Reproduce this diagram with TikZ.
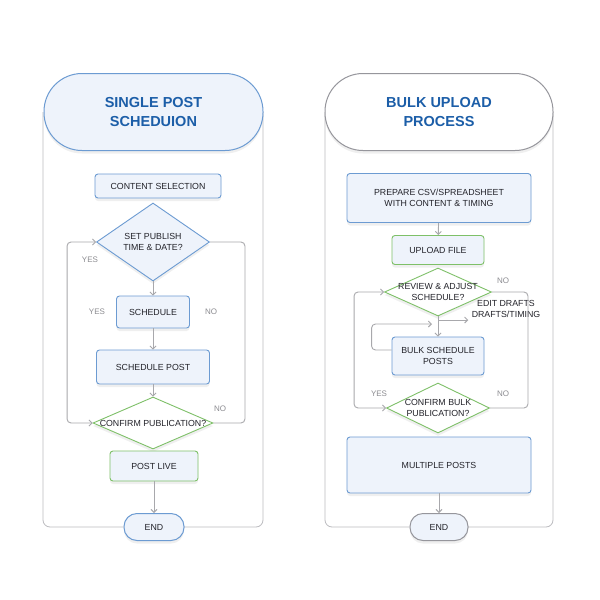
\documentclass[tikz,border=0pt]{standalone}
\usepackage{fontspec}
\setmainfont{Liberation Sans}
\usetikzlibrary{positioning,arrows.meta,shapes.geometric,shadows}
\definecolor{spBlue}{RGB}{108,155,210}
\definecolor{spBlueFill}{RGB}{238,243,251}
\definecolor{spGreen}{RGB}{126,192,104}
\definecolor{spGray}{RGB}{168,168,172}
\definecolor{spFrame}{RGB}{188,188,192}
\definecolor{spHeadGray}{RGB}{150,150,156}
\definecolor{spHead}{RGB}{28,94,168}
\definecolor{spText}{RGB}{35,35,42}
\definecolor{spLabel}{RGB}{140,140,145}

\begin{document}
\begin{tikzpicture}[x=1pt,y=-1pt,
  every node/.style={font=\fontsize{8.8}{11}\selectfont, text=spText, align=center},
  boxshadow/.style={drop shadow={opacity=0.12, shadow xshift=0pt, shadow yshift=-3pt}},
  procbox/.style={draw=spBlue, fill=spBlueFill, line width=0.9pt, rounded corners=3pt, inner sep=0pt, boxshadow},
  greenbox/.style={procbox, draw=spGreen},
  decision/.style={diamond, draw=spGreen, fill=white, line width=0.9pt, inner sep=0pt, boxshadow},
  header/.style={draw=spBlue, fill=spBlueFill, line width=1pt, rounded corners=38pt, minimum width=219, minimum height=77, inner sep=0pt, font=\fontsize{14.5}{19}\selectfont\bfseries, text=spHead, boxshadow},
  terminal/.style={draw=spBlue, fill=spBlueFill, line width=1pt, rounded corners=13pt, minimum width=60, minimum height=27, inner sep=0pt, boxshadow},
  panel/.style={draw=spFrame, line width=0.8pt, rounded corners=7pt},
  link/.style={draw=spGray, line width=0.9pt, rounded corners=4pt},
  flow/.style={link, -{Straight Barb[length=3pt,width=6pt]}},
  twoway/.style={link, {Straight Barb[length=3pt,width=6pt]}-{Straight Barb[length=3pt,width=6pt]}},
  branch/.style={font=\fontsize{8}{9}\selectfont, text=spLabel},
]
  \useasboundingbox[fill=white] (0,0) rectangle (600,600);

  % Single post panel
  \draw[panel] (43,112) |- (263,527) -- (263,112);
  \node[header] (hdrA) at (153.5,112) {SINGLE POST\\SCHEDUION};

  \node[procbox, minimum width=126, minimum height=24] (content) at (158,186) {CONTENT SELECTION};
  \node[decision, draw=spBlue, fill=spBlueFill, minimum width=113, minimum height=78,
        label={center:{SET PUBLISH\\TIME \& DATE?}}] (setpub) at (153,242) {};
  \node[procbox, minimum width=73, minimum height=32] (sched) at (153,312) {SCHEDULE};
  \node[procbox, minimum width=113, minimum height=34] (schedpost) at (153,367) {SCHEDULE POST};
  \node[decision, minimum width=120, minimum height=52,
        label={center:{CONFIRM PUBLICATION?}}] (confirm) at (153,423) {};
  \node[greenbox, minimum width=88, minimum height=30] (postlive) at (154,466) {POST LIVE};
  \node[terminal] (endA) at (154,527) {END};

  \draw[flow] (setpub) -- (sched);
  \draw[flow] (sched) -- (schedpost);
  \draw[flow] (schedpost) -- (confirm);
  \draw[flow] (postlive) -- (endA);
  \draw[twoway] (setpub.west) -- ++(-29,0) |- (confirm.west);
  \draw[link] (setpub.east) -- ++(35,0) |- (confirm.east);

  \node[branch] (yesA) at (90,260) {YES};
  \node[branch] (yesB) at (97,312) {YES};
  \node[branch] (noA) at (211,312) {NO};
  \node[branch] (noB) at (220,409) {NO};

  % Bulk upload panel
  \draw[panel] (325,112) |- (553,527) -- (553,112);
  \node[header, draw=spHeadGray, fill=white, minimum width=228] (hdrB) at (439,112) {BULK UPLOAD\\PROCESS};

  \node[procbox, minimum width=184, minimum height=49] (prep) at (439,198) {PREPARE CSV/SPREADSHEET\\WITH CONTENT \& TIMING};
  \node[greenbox, minimum width=92, minimum height=29] (upload) at (438,250) {UPLOAD FILE};
  \node[decision, minimum width=107, minimum height=48,
        label={center:{REVIEW \& ADJUST\\SCHEDULE?}}] (review) at (438,292) {};
  \node (edit) at (506,309) {EDIT DRAFTS\\DRAFTS/TIMING};
  \node[procbox, minimum width=92, minimum height=38] (bulk) at (438,356) {BULK SCHEDULE\\POSTS};
  \node[decision, minimum width=103, minimum height=50,
        label={center:{CONFIRM BULK\\PUBLICATION?}}] (confbulk) at (438,408) {};
  \node[procbox, minimum width=184, minimum height=56] (multi) at (439,465) {MULTIPLE POSTS};
  \node[terminal, draw=spHeadGray, minimum width=58] (endB) at (439,527) {END};

  \coordinate (fork) at (438,320);
  \coordinate (rejoin) at (432,324);
  \draw[flow] (prep) -- (upload);
  \draw[flow] (review) -- (bulk);
  \draw[flow] (fork) -- (fork -| edit.west);
  \draw[flow] ([yshift=6pt]bulk.west) -- ++(-20,0) |- (rejoin);
  \draw[twoway] (review.west) -- ++(-30,0) |- (confbulk.west);
  \draw[link] (review.east) -- ++(36,0) |- (confbulk.east);
  \draw[flow] (multi) -- (endB);

  \node[branch] (noC) at (503,281) {NO};
  \node[branch] (yesC) at (379,394) {YES};
  \node[branch] (noD) at (503,394) {NO};
\end{tikzpicture}
\end{document}
